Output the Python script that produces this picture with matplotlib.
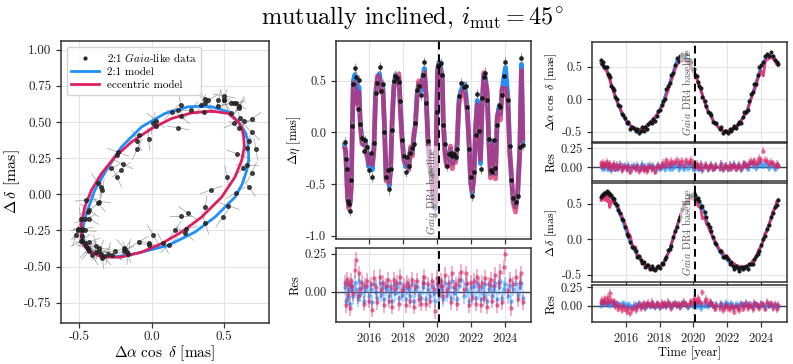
import matplotlib
matplotlib.use("Agg")
import matplotlib.pyplot as plt
from matplotlib.collections import LineCollection
from matplotlib.ticker import FormatStrFormatter
import matplotlib.transforms as mtrans
import numpy as np

plt.rcParams['font.family'] = 'serif'
plt.rcParams['font.serif'] = ['cmr10']
plt.rcParams['mathtext.fontset'] = 'cm'
plt.rcParams['axes.formatter.use_mathtext'] = True

# ---------------- data ----------------
t_obs = [2014.54, 2014.60, 2014.66, 2014.71, 2014.79, 2014.87, 2014.93, 2014.99, 2015.05, 2015.14,
         2015.22, 2015.30, 2015.38, 2015.46, 2015.56, 2015.65, 2015.75, 2015.85, 2015.95, 2016.06,
         2016.16, 2016.26, 2016.36, 2016.47, 2016.59, 2016.69, 2016.79, 2016.88, 2016.98, 2017.08,
         2017.16, 2017.24, 2017.33, 2017.43, 2017.53, 2017.63, 2017.73, 2017.82, 2017.92, 2018.02,
         2018.12, 2018.21, 2018.31, 2018.41, 2018.51, 2018.61, 2018.70, 2018.80, 2018.90, 2019.02,
         2019.13, 2019.23, 2019.33, 2019.45, 2019.56, 2019.66, 2019.78, 2019.88, 2019.95, 2020.01,
         2020.09, 2020.19, 2020.28, 2020.34, 2020.44, 2020.54, 2020.67, 2020.77, 2020.87, 2020.97,
         2021.07, 2021.16, 2021.26, 2021.36, 2021.55, 2021.65, 2021.75, 2021.85, 2021.95, 2022.04,
         2022.14, 2022.24, 2022.34, 2022.43, 2022.53, 2022.63, 2022.73, 2022.82, 2022.92, 2023.02,
         2023.12, 2023.21, 2023.31, 2023.41, 2023.51, 2023.61, 2023.70, 2023.80, 2023.90, 2024.00,
         2024.14, 2024.25, 2024.33, 2024.45, 2024.59, 2024.72, 2024.84, 2024.94, 2025.02]

# 2:1 model along-scan displacement at the epochs
eta_21 = [-0.12, -0.20, -0.40, -0.62, -0.71, -0.68, -0.50, 0.05, 0.50, 0.56,
          0.52, 0.28, 0.44, 0.10, -0.08, -0.12, -0.08, -0.18, -0.33, -0.22,
          -0.36, -0.15, 0.38, 0.52, 0.57, 0.42, 0.44, 0.05, -0.45, -0.40,
          -0.52, -0.36, 0.08, 0.45, 0.56, 0.50, 0.53, 0.24, -0.05, -0.24,
          -0.33, -0.27, -0.34, -0.17, -0.20, -0.05, 0.08, 0.37, 0.47, 0.40,
          0.53, 0.62, 0.34, -0.10, -0.35, -0.45, -0.70, -0.74, 0.15, 0.62,
          0.68, 0.63, 0.55, 0.12, -0.17, -0.30, -0.24, -0.16, -0.30, -0.20,
          -0.26, -0.11, 0.31, 0.40, 0.47, 0.40, 0.24, -0.10, -0.46, -0.59,
          -0.42, 0.02, 0.31, 0.00, -0.30, 0.30, 0.56, 0.53, 0.37, -0.08,
          -0.40, -0.35, -0.08, -0.40, 0.12, 0.24, 0.18, 0.40, 0.53, 0.63,
          0.34, -0.17, -0.40, -0.65, -0.72, -0.59, -0.17, 0.66, -0.08]

# 2:1 model RA / Dec offsets at the epochs
ra_21 = [0.58, 0.56, 0.54, 0.52, 0.49, 0.46, 0.42, 0.37, 0.32, 0.24,
         0.17, 0.11, 0.05, -0.01, -0.08, -0.14, -0.20, -0.25, -0.30, -0.35,
         -0.38, -0.41, -0.44, -0.46, -0.48, -0.49, -0.48, -0.48, -0.47, -0.46,
         -0.44, -0.42, -0.40, -0.38, -0.35, -0.32, -0.29, -0.26, -0.21, -0.15,
         -0.09, -0.04, 0.04, 0.12, 0.19, 0.27, 0.34, 0.42, 0.50, 0.59,
         0.62, 0.65, 0.67, 0.66, 0.64, 0.62, 0.57, 0.52, 0.48, 0.45,
         0.40, 0.34, 0.27, 0.22, 0.15, 0.07, -0.03, -0.12, -0.17, -0.22,
         -0.27, -0.32, -0.36, -0.39, -0.45, -0.47, -0.48, -0.49, -0.50, -0.50,
         -0.49, -0.48, -0.46, -0.45, -0.42, -0.39, -0.37, -0.33, -0.29, -0.24,
         -0.20, -0.14, -0.06, 0.02, 0.10, 0.18, 0.25, 0.34, 0.42, 0.49,
         0.56, 0.62, 0.66, 0.67, 0.68, 0.65, 0.62, 0.56, 0.52]

dec_21 = [0.59, 0.60, 0.61, 0.61, 0.62, 0.63, 0.63, 0.62, 0.61, 0.59,
          0.56, 0.53, 0.50, 0.46, 0.41, 0.35, 0.30, 0.24, 0.17, 0.10,
          0.03, -0.04, -0.08, -0.13, -0.19, -0.23, -0.27, -0.29, -0.32, -0.34,
          -0.36, -0.37, -0.38, -0.40, -0.40, -0.41, -0.41, -0.41, -0.39, -0.38,
          -0.36, -0.34, -0.30, -0.24, -0.19, -0.14, -0.07, 0.01, 0.09, 0.18,
          0.26, 0.33, 0.40, 0.47, 0.51, 0.55, 0.59, 0.60, 0.61, 0.61,
          0.61, 0.58, 0.55, 0.53, 0.49, 0.45, 0.38, 0.28, 0.22, 0.15,
          0.08, 0.02, -0.03, -0.08, -0.17, -0.20, -0.23, -0.26, -0.28, -0.30,
          -0.33, -0.35, -0.37, -0.39, -0.40, -0.41, -0.42, -0.42, -0.42, -0.41,
          -0.41, -0.40, -0.37, -0.35, -0.33, -0.30, -0.26, -0.20, -0.15, -0.10,
          0.00, 0.07, 0.12, 0.20, 0.29, 0.38, 0.45, 0.51, 0.56]

# residuals (data - model)
res_eta_21 = [0.03, -0.06, 0.05, -0.04, 0.02, -0.08, 0.04, 0.01, -0.03, 0.06,
              0.02, -0.05, 0.07, -0.02, 0.03, -0.06, 0.01, 0.04, -0.03, 0.02,
              -0.07, 0.05, 0.00, -0.04, 0.06, -0.02, 0.03, -0.05, 0.02, 0.04,
              -0.03, 0.01, -0.06, 0.05, -0.01, 0.03, -0.04, 0.06, -0.02, 0.01,
              -0.05, 0.03, 0.02, -0.03, 0.05, -0.06, 0.01, 0.04, -0.02, -0.04,
              0.03, 0.06, -0.05, 0.02, -0.03, 0.04, -0.01, -0.06, 0.05, 0.02,
              -0.03, 0.04, 0.01, -0.05, 0.06, -0.02, 0.03, -0.04, 0.07, -0.01,
              0.02, -0.05, 0.04, 0.08, -0.03, 0.05, 0.01, -0.06, 0.03, -0.02,
              0.04, -0.04, 0.06, 0.01, -0.05, 0.03, -0.02, 0.05, -0.06, 0.02,
              0.04, -0.03, 0.01, 0.06, -0.05, 0.03, 0.07, -0.04, 0.02, 0.05,
              -0.03, 0.04, -0.06, 0.02, 0.05, -0.02, 0.03, 0.06, -0.04]
res_eta_ecc = [0.06, -0.09, 0.08, -0.02, 0.05, -0.11, 0.07, 0.04, -0.01, 0.14,
               0.21, -0.03, 0.12, 0.02, 0.06, -0.08, 0.04, 0.07, -0.06, 0.05,
               -0.12, 0.09, 0.03, -0.07, 0.10, 0.01, 0.06, -0.09, 0.04, 0.08,
               -0.06, 0.03, -0.10, 0.08, 0.02, 0.06, -0.08, 0.10, 0.01, 0.04,
               -0.09, 0.06, 0.04, -0.06, 0.08, -0.10, 0.03, 0.07, -0.05, -0.08,
               0.06, 0.10, -0.08, 0.05, -0.06, 0.07, 0.02, -0.13, 0.09, 0.05,
               -0.01, 0.07, 0.04, -0.03, 0.11, 0.01, 0.06, -0.07, 0.12, 0.03,
               0.05, -0.08, 0.08, 0.13, 0.02, 0.12, 0.06, -0.09, 0.06, -0.04,
               0.07, -0.08, 0.10, 0.04, -0.09, 0.06, -0.04, 0.09, -0.10, 0.05,
               0.08, -0.06, 0.04, 0.11, -0.09, 0.06, 0.13, -0.07, 0.16, 0.25,
               0.01, 0.08, -0.11, 0.05, 0.10, -0.05, 0.06, 0.12, -0.07]
res_ra_21 = [0.02, -0.01, 0.03, -0.02, 0.01, 0.04, -0.03, 0.00, 0.02, -0.04,
             0.01, 0.03, -0.02, 0.02, -0.01, 0.04, -0.03, 0.01, 0.02, -0.02,
             0.03, -0.04, 0.01, 0.02, -0.01, 0.03, -0.03, 0.00, 0.04, -0.02,
             0.01, -0.03, 0.02, 0.03, -0.01, 0.02, -0.04, 0.01, 0.03, -0.02,
             0.00, 0.02, -0.03, 0.04, 0.01, -0.02, 0.03, -0.01, 0.02, 0.04,
             -0.03, 0.01, 0.02, -0.02, 0.05, -0.01, 0.03, 0.06, -0.02, 0.01,
             -0.03, 0.02, 0.00, -0.02, 0.03, -0.04, 0.01, 0.02, -0.03, 0.01,
             0.03, -0.02, 0.00, 0.02, -0.01, 0.04, -0.03, 0.01, 0.02, -0.02,
             0.03, -0.01, 0.02, 0.04, -0.02, 0.01, 0.03, -0.03, 0.02, 0.05,
             0.01, -0.02, 0.04, 0.06, 0.02, 0.05, -0.01, 0.03, 0.07, 0.04,
             0.02, 0.05, 0.03, -0.01, 0.04, 0.02, -0.02, 0.01, 0.03]
res_ra_ecc = [0.05, 0.02, 0.06, 0.01, 0.04, 0.07, 0.00, 0.03, 0.04, -0.02,
              0.02, 0.04, -0.02, 0.03, -0.01, 0.03, -0.04, 0.00, 0.01, -0.03,
              0.01, -0.06, -0.01, 0.00, -0.03, 0.01, -0.05, -0.02, 0.02, -0.04,
              -0.01, -0.05, 0.00, 0.01, -0.03, 0.00, -0.06, -0.01, 0.02, 0.00,
              0.03, 0.06, 0.02, 0.09, 0.06, 0.03, 0.08, 0.05, 0.07, 0.10,
              0.03, 0.07, 0.08, 0.03, 0.09, 0.05, 0.07, 0.10, 0.02, 0.04,
              0.00, 0.04, 0.02, -0.01, 0.04, -0.03, 0.02, 0.03, -0.02, 0.01,
              0.03, -0.02, 0.00, 0.02, -0.01, 0.04, -0.03, 0.01, 0.02, -0.02,
              0.03, -0.01, 0.01, 0.03, -0.02, 0.01, 0.03, -0.03, 0.02, 0.05,
              0.03, 0.01, 0.06, 0.08, 0.05, 0.09, 0.04, 0.07, 0.12, 0.09,
              0.22, 0.10, 0.08, 0.04, 0.07, 0.05, 0.01, 0.04, 0.02]
res_dec_21 = [0.01, 0.03, 0.02, 0.04, 0.03, 0.05, 0.02, 0.04, 0.01, 0.03,
              0.02, 0.04, 0.01, 0.03, 0.00, 0.02, -0.01, 0.03, 0.01, -0.02,
              0.02, 0.00, -0.03, 0.01, 0.02, -0.02, 0.03, 0.00, -0.01, 0.02,
              -0.03, 0.01, 0.02, -0.01, 0.03, 0.00, -0.02, 0.02, 0.01, -0.02,
              0.03, 0.00, 0.02, -0.01, 0.04, 0.01, -0.02, 0.02, 0.03, 0.00,
              0.02, -0.01, 0.03, 0.04, 0.01, -0.02, 0.02, 0.03, 0.00, 0.04,
              0.02, -0.01, 0.03, 0.01, -0.03, 0.02, 0.00, 0.03, -0.01, 0.02,
              0.04, 0.01, -0.02, 0.02, 0.00, 0.03, -0.02, 0.01, 0.04, 0.02,
              -0.01, 0.03, 0.00, -0.03, 0.02, 0.01, -0.02, 0.03, 0.00, 0.02,
              0.04, -0.01, 0.02, 0.01, -0.02, 0.03, 0.02, 0.00, -0.01, 0.02,
              0.01, -0.02, 0.03, 0.00, 0.02, -0.01, 0.01, -0.02, 0.00]
res_dec_ecc = [0.05, 0.08, 0.03, 0.07, 0.10, 0.04, 0.12, 0.06, 0.17, 0.08,
               0.03, 0.06, -0.01, 0.02, -0.04, -0.01, -0.06, 0.00, -0.04, -0.08,
               -0.03, -0.10, -0.05, -0.02, -0.06, -0.01, 0.02, -0.03, 0.01, 0.03,
               -0.02, 0.02, 0.04, 0.00, 0.05, 0.01, -0.01, 0.03, 0.02, -0.02,
               0.04, 0.01, 0.03, -0.01, 0.05, 0.02, -0.03, 0.02, 0.03, 0.01,
               0.02, -0.02, 0.03, 0.05, 0.02, -0.01, 0.04, 0.06, 0.03, 0.09,
               0.08, 0.05, 0.11, 0.07, 0.03, 0.18, 0.06, 0.09, 0.02, 0.05,
               0.04, 0.00, -0.04, 0.01, -0.03, 0.02, -0.06, -0.02, 0.01, -0.03,
               -0.05, 0.00, -0.02, -0.08, -0.01, -0.03, -0.06, 0.02, -0.04, 0.00,
               0.03, -0.03, 0.01, 0.00, -0.05, 0.04, 0.02, -0.01, -0.03, 0.03,
               0.02, -0.04, 0.05, 0.01, 0.03, -0.03, 0.02, -0.05, 0.01]

# scan angle of each epoch (deg), sets direction of the 2D error bars
scan_deg = [35, 120, 80, 160, 15, 100, 60, 140, 25, 170,
            90, 45, 130, 10, 75, 155, 110, 30, 65, 145,
            5, 85, 125, 50, 175, 95, 20, 135, 70, 150,
            40, 115, 165, 55, 100, 12, 140, 80, 28, 160,
            60, 105, 150, 35, 90, 125, 8, 70, 170, 45,
            110, 20, 135, 95, 55, 160, 30, 120, 75, 15,
            145, 85, 40, 130, 100, 62, 175, 25, 115, 50,
            155, 10, 95, 140, 68, 120, 33, 165, 82, 18,
            130, 58, 105, 150, 42, 88, 172, 22, 118, 65,
            138, 8, 98, 152, 48, 128, 76, 162, 36, 108,
            58, 144, 26, 92, 170, 14, 124, 66, 150]

# sky-plane orbits (left panel)
orb_ra_21 = [0.346, 0.253, 0.092, -0.069, -0.207, -0.300, -0.392, -0.450, -0.465, -0.475,
             -0.475, -0.461, -0.430, -0.392, -0.330, -0.254, -0.093, 0.115, 0.300, 0.438,
             0.576, 0.625, 0.657, 0.670, 0.668, 0.664, 0.645, 0.600, 0.530, 0.415, 0.346]
orb_dec_21 = [0.609, 0.605, 0.559, 0.466, 0.328, 0.189, 0.028, -0.134, -0.190, -0.249,
              -0.300, -0.341, -0.385, -0.410, -0.430, -0.434, -0.406, -0.353, -0.261, -0.157,
              -0.019, 0.070, 0.166, 0.240, 0.305, 0.374, 0.430, 0.500, 0.570, 0.605, 0.609]
orb_ra_ecc = [0.415, 0.277, 0.138, 0.000, -0.138, -0.254, -0.346, -0.415, -0.461, -0.484,
              -0.484, -0.470, -0.438, -0.346, -0.207, -0.069, 0.069, 0.207, 0.346, 0.484,
              0.576, 0.622, 0.640, 0.635, 0.625, 0.599, 0.530, 0.415]
orb_dec_ecc = [0.575, 0.563, 0.524, 0.455, 0.362, 0.258, 0.143, 0.028, -0.088, -0.203,
               -0.296, -0.350, -0.388, -0.434, -0.434, -0.400, -0.341, -0.261, -0.157, -0.019,
               0.120, 0.235, 0.330, 0.400, 0.450, 0.500, 0.559, 0.575]

t_dr4 = 2020.07

# derived quantities
t = np.array(t_obs)
eta_obs = np.array(eta_21) + np.array(res_eta_21)
eta_ecc = eta_obs - np.array(res_eta_ecc)
ra_obs = np.array(ra_21) + np.array(res_ra_21)
ra_ecc = ra_obs - np.array(res_ra_ecc)
dec_obs = np.array(dec_21) + np.array(res_dec_21)
dec_ecc = dec_obs - np.array(res_dec_ecc)

blue = '#1e90ff'
red = '#dc1f5e'
spine_c = '#333333'


def style(ax, fs=9):
    ax.grid(True, color='#e4e4e4', lw=0.8)
    ax.set_axisbelow(True)
    for s in ax.spines.values():
        s.set_color(spine_c)
        s.set_linewidth(1.1)
    ax.tick_params(colors=spine_c, labelsize=fs, length=3.5, width=0.9)
    for lab in ax.get_xticklabels() + ax.get_yticklabels():
        lab.set_color('#222222')


def baseline(ax, yfrac):
    ax.axvline(t_dr4, color='k', ls='--', lw=1.4, dashes=(4, 2.5), zorder=6)
    tr = mtrans.blended_transform_factory(ax.transData, ax.transAxes)
    ax.text(t_dr4 - 0.07, yfrac, r'$\it{Gaia}$ DR4 baseline', rotation=90, transform=tr,
            ha='right', va='bottom', fontsize=7.5, color='#555555', zorder=7,
            bbox=dict(facecolor='white', alpha=0.6, edgecolor='none', pad=0.6))


def res_panel(ax, r21, recc):
    ax.axhline(0, color='#444444', lw=1.0, zorder=1)
    ax.errorbar(t, r21, yerr=0.05, fmt='o', ms=2.3, color=blue, alpha=0.45,
                elinewidth=1.1, zorder=3)
    ax.errorbar(t, recc, yerr=0.05, fmt='o', ms=2.3, color=red, alpha=0.45,
                elinewidth=1.1, zorder=4)
    ax.set_yticks([0.0, 0.25])
    ax.yaxis.set_major_formatter(FormatStrFormatter('%.2f'))
    ax.set_ylabel('Res', fontsize=9, labelpad=2)


fig = plt.figure(figsize=(7.93, 3.64), dpi=100)

# ---------------- left: sky plane ----------------
ax0 = fig.add_axes([0.0769, 0.1126, 0.2623, 0.7748])
sth = np.sin(np.radians(scan_deg))
cth = np.cos(np.radians(scan_deg))
L = 0.08
segs = [[(x - L * s, y - L * c), (x + L * s, y + L * c)]
        for x, y, s, c in zip(ra_obs, dec_obs, sth, cth)]
ax0.add_collection(LineCollection(segs, colors='#777777', linewidths=0.6, alpha=0.6, zorder=2))
ax0.plot(orb_ra_21, orb_dec_21, color=blue, lw=2.0, zorder=3, label='2:1 model')
ax0.plot(orb_ra_ecc, orb_dec_ecc, color=red, lw=2.0, zorder=3, label='eccentric model')
ax0.plot(ra_obs, dec_obs, 'o', ms=2.6, color='#222222', alpha=0.8, zorder=4)
h_data, = ax0.plot([], [], '.', ms=4, color='#222222', label=r'2:1 $\it{Gaia}$-like data')
ax0.set_xlim(-0.625, 0.81)
ax0.set_ylim(-0.89, 1.06)
ax0.set_xticks([-0.5, 0.0, 0.5])
ax0.set_yticks([-0.75, -0.5, -0.25, 0.0, 0.25, 0.5, 0.75, 1.0])
ax0.yaxis.set_major_formatter(FormatStrFormatter('%.2f'))
ax0.xaxis.set_major_formatter(FormatStrFormatter('%.1f'))
style(ax0, fs=9.5)
ax0.tick_params(axis='x', pad=2.5)
ax0.set_xlabel(r'$\Delta\alpha\ \cos\ \delta$ [mas]', fontsize=11, labelpad=0)
ax0.set_ylabel(r'$\Delta\,\delta$ [mas]', fontsize=11.5, labelpad=1)
hs, ls = ax0.get_legend_handles_labels()
ax0.legend([hs[2], hs[0], hs[1]], [ls[2], ls[0], ls[1]], loc='upper left', fontsize=8,
           framealpha=0.85, edgecolor='#cccccc', handlelength=2.5, borderpad=0.4,
           labelspacing=0.3, handletextpad=0.7)

# ---------------- middle: along-scan ----------------
tlim = (2014.03, 2025.5)
ax1 = fig.add_axes([0.4237, 0.3434, 0.2459, 0.5440])
ax1.plot(t, eta_21, color=blue, lw=3.4, zorder=2)
ax1.plot(t, eta_ecc, color=red, lw=3.4, alpha=0.7, zorder=3)
ax1.errorbar(t, eta_obs, yerr=0.05, fmt='o', ms=2.4, color='#111111', ecolor='#888888',
             elinewidth=0.8, alpha=0.85, zorder=4)
ax1.set_xlim(tlim)
ax1.set_ylim(-1.03, 0.885)
ax1.set_yticks([-1.0, -0.5, 0.0, 0.5])
ax1.yaxis.set_major_formatter(FormatStrFormatter('%.1f'))
ax1.set_xticks([2016, 2018, 2020, 2022, 2024])
ax1.tick_params(labelbottom=False)
style(ax1)
ax1.set_ylabel(r'$\Delta\eta$ [mas]', fontsize=9, labelpad=2)
baseline(ax1, 0.02)

ax1r = fig.add_axes([0.4237, 0.1154, 0.2459, 0.2041])
res_panel(ax1r, np.array(res_eta_21), np.array(res_eta_ecc))
ax1r.set_xlim(tlim)
ax1r.set_ylim(-0.2, 0.29)
ax1r.set_xticks([2016, 2018, 2020, 2022, 2024])
style(ax1r)
ax1r.axvline(t_dr4, color='k', ls='--', lw=1.4, dashes=(4, 2.5), zorder=6)

# ---------------- right: RA and Dec vs time ----------------
tlim2 = (2014.0, 2025.54)
ax2 = fig.add_axes([0.7465, 0.6107, 0.2459, 0.2747])
ax2.plot(t, ra_21, color=blue, lw=2.0, zorder=2)
ax2.plot(t, ra_ecc, color=red, lw=2.0, alpha=0.85, zorder=3)
ax2.errorbar(t, ra_obs, yerr=0.03, fmt='o', ms=2.0, color='#111111', ecolor='#777777',
             elinewidth=0.7, alpha=0.85, zorder=4)
ax2.set_xlim(tlim2)
ax2.set_ylim(-0.65, 0.885)
ax2.set_yticks([-0.5, 0.0, 0.5])
ax2.yaxis.set_major_formatter(FormatStrFormatter('%.1f'))
ax2.set_xticks([2016, 2018, 2020, 2022, 2024])
ax2.tick_params(labelbottom=False)
style(ax2)
ax2.set_ylabel(r'$\Delta\alpha\ \cos\ \delta$ [mas]', fontsize=8.5, labelpad=2)
baseline(ax2, 0.06)

ax2r = fig.add_axes([0.7465, 0.5036, 0.2459, 0.1035])
res_panel(ax2r, np.array(res_ra_21), np.array(res_ra_ecc))
ax2r.set_xlim(tlim2)
ax2r.set_ylim(-0.18, 0.32)
ax2r.set_xticks([2016, 2018, 2020, 2022, 2024])
ax2r.tick_params(labelbottom=False)
style(ax2r)
ax2r.axvline(t_dr4, color='k', ls='--', lw=1.4, dashes=(4, 2.5), zorder=6)

ax3 = fig.add_axes([0.7465, 0.2253, 0.2459, 0.2711])
ax3.plot(t, dec_21, color=blue, lw=2.0, zorder=2)
ax3.plot(t, dec_ecc, color=red, lw=2.0, alpha=0.85, zorder=3)
ax3.errorbar(t, dec_obs, yerr=0.03, fmt='o', ms=2.0, color='#111111', ecolor='#777777',
             elinewidth=0.7, alpha=0.85, zorder=4)
ax3.set_xlim(tlim2)
ax3.set_ylim(-0.6, 0.79)
ax3.set_yticks([-0.5, 0.0, 0.5])
ax3.yaxis.set_major_formatter(FormatStrFormatter('%.1f'))
ax3.set_xticks([2016, 2018, 2020, 2022, 2024])
ax3.tick_params(labelbottom=False)
style(ax3)
ax3.set_ylabel(r'$\Delta\,\delta$ [mas]', fontsize=8.5, labelpad=2)
baseline(ax3, 0.06)

ax3r = fig.add_axes([0.7465, 0.1146, 0.2459, 0.1016])
res_panel(ax3r, np.array(res_dec_21), np.array(res_dec_ecc))
ax3r.set_xlim(tlim2)
ax3r.set_ylim(-0.226, 0.277)
ax3r.set_xticks([2016, 2018, 2020, 2022, 2024])
style(ax3r)
ax3r.axvline(t_dr4, color='k', ls='--', lw=1.4, dashes=(4, 2.5), zorder=6)
ax3r.set_xlabel('Time [year]', fontsize=9, labelpad=1)

fig.text(0.52, 0.953, r'mutually inclined, $i_{\rm mut} = 45^{\circ}$', ha='center',
         va='center', fontsize=17.5)

fig.savefig('out.png', dpi=100)
